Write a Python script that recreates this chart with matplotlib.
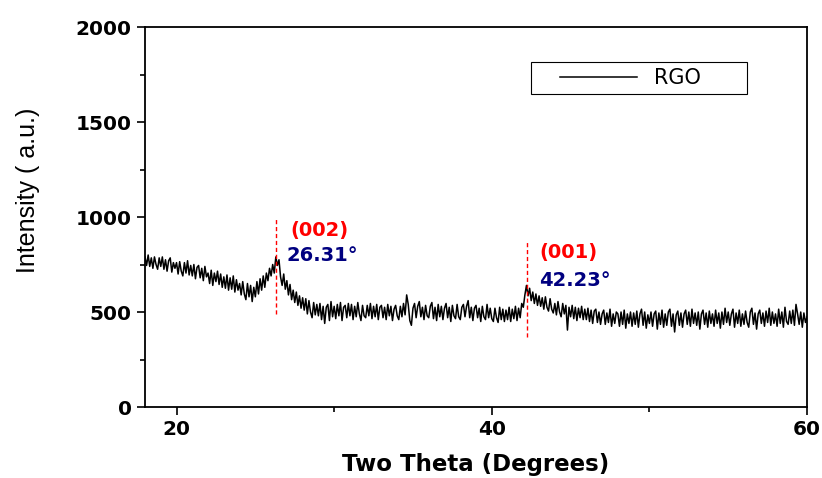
import numpy as np
import matplotlib.pyplot as plt
from matplotlib.patches import Rectangle
from matplotlib.ticker import MultipleLocator

# two theta grid, 0.1 deg steps from 18 to 60
two_theta = np.round(np.arange(18.0, 60.05, 0.1), 1)

# intensity, one row per degree
intensity = [
    790, 745, 800, 740, 785, 730, 790, 750, 725, 785,   # 18
    740, 790, 725, 775, 715, 770, 785, 710, 760, 730,   # 19
    760, 700, 765, 715, 690, 760, 705, 770, 695, 745,   # 20
    690, 750, 675, 735, 745, 680, 730, 665, 740, 685,   # 21
    705, 650, 720, 640, 705, 660, 715, 645, 700, 630,   # 22
    685, 625, 695, 615, 680, 620, 690, 605, 670, 615,   # 23
    650, 590, 660, 595, 565, 650, 580, 640, 555, 630,   # 24
    580, 660, 595, 675, 615, 690, 630, 705, 665, 730,   # 25
    690, 750, 705, 790, 745, 775, 685, 640, 700, 620,   # 26
    665, 590, 645, 565, 615, 550, 605, 535, 585, 520,   # 27
    575, 510, 570, 490, 560, 500, 470, 550, 485, 540,   # 28
    480, 545, 460, 530, 440, 525, 540, 455, 555, 475,   # 29
    530, 465, 540, 480, 550, 455, 525, 535, 470, 545,   # 30
    480, 540, 460, 530, 475, 550, 490, 455, 535, 480,   # 31
    470, 535, 480, 545, 465, 530, 475, 540, 460, 525,   # 32
    535, 470, 525, 460, 540, 480, 530, 455, 515, 535,   # 33
    480, 460, 530, 475, 545, 485, 590, 540, 455, 430,   # 34
    520, 545, 470, 530, 555, 475, 525, 460, 535, 480,   # 35
    470, 530, 550, 465, 525, 455, 540, 475, 530, 460,   # 36
    520, 545, 470, 525, 450, 535, 480, 465, 540, 475,   # 37
    460, 525, 540, 475, 530, 560, 470, 525, 455, 520,   # 38
    535, 470, 520, 450, 530, 475, 460, 540, 470, 520,   # 39
    465, 450, 520, 470, 445, 525, 460, 515, 450, 510,   # 40
    460, 525, 450, 515, 465, 530, 455, 520, 470, 545,   # 41
    525, 590, 640, 585, 625, 560, 605, 545, 595, 535,   # 42
    585, 530, 575, 515, 580, 525, 505, 570, 515, 495,   # 43
    545, 485, 555, 500, 475, 545, 490, 535, 405, 525,   # 44
    475, 535, 465, 525, 455, 520, 470, 530, 460, 515,   # 45
    460, 520, 450, 510, 440, 505, 515, 445, 500, 435,   # 46
    490, 510, 435, 495, 445, 515, 425, 490, 440, 500,   # 47
    490, 425, 500, 435, 510, 415, 490, 440, 500, 425,   # 48
    495, 435, 505, 420, 490, 515, 430, 500, 415, 485,   # 49
    440, 500, 425, 490, 505, 410, 495, 435, 510, 420,   # 50
    490, 430, 500, 515, 425, 490, 395, 485, 505, 430,   # 51
    495, 420, 490, 510, 435, 500, 425, 515, 440, 495,   # 52
    430, 500, 410, 490, 510, 435, 495, 420, 505, 440,   # 53
    490, 425, 510, 440, 495, 415, 500, 435, 520, 445,   # 54
    500, 430, 490, 515, 420, 495, 440, 510, 425, 490,   # 55
    435, 505, 445, 420, 500, 520, 435, 495, 410, 490,   # 56
    510, 440, 495, 425, 505, 445, 520, 430, 500, 440,   # 57
    490, 425, 515, 440, 500, 420, 525, 450, 435, 505,   # 58
    440, 510, 430, 540, 490, 435, 500, 420, 495, 445,   # 59
    475,                                                # 60
]

peak_pos = [26.31, 42.23]
peak_hkl = ["(002)", "(001)"]
peak_line_span = [(490, 1000), (370, 880)]
hkl_xy = [(27.2, 930), (43.0, 815)]
angle_xy = [(27.0, 800), (43.0, 668)]

fig = plt.figure(figsize=(8.22, 4.78), dpi=100)
ax = fig.add_axes([0.1764, 0.1485, 0.8054, 0.795])

ax.plot(two_theta, intensity, color='black', linewidth=1.1, label='RGO')

# peak markers and labels
for pos, hkl, (y0, y1), (hx, hy), (px, py) in zip(peak_pos, peak_hkl, peak_line_span, hkl_xy, angle_xy):
    ax.plot([pos, pos], [y0, y1], color='red', linestyle=(0, (3, 2)), linewidth=1.0)
    ax.text(hx, hy, hkl, color='red', fontsize=14, fontweight='bold',
            family='DejaVu Sans', va='center', ha='left')
    ax.text(px, py, f"{pos:.2f}°", color='#000080', fontsize=14, fontweight='bold',
            family='DejaVu Sans', va='center', ha='left')

ax.set_xlim(18, 60)
ax.set_ylim(0, 2000)
ax.xaxis.set_major_locator(MultipleLocator(20))
ax.xaxis.set_minor_locator(MultipleLocator(10))
ax.yaxis.set_major_locator(MultipleLocator(500))
ax.yaxis.set_minor_locator(MultipleLocator(250))
ax.tick_params(which='both', direction='out', top=False, right=False, width=1.2)
ax.tick_params(which='major', length=6, labelsize=14.5)
ax.tick_params(which='minor', length=3.5)
for lab in ax.get_xticklabels() + ax.get_yticklabels():
    lab.set_fontweight('bold')
    lab.set_family('DejaVu Sans')
for sp in ax.spines.values():
    sp.set_linewidth(1.3)

ax.set_xlabel("Two Theta (Degrees)", fontsize=16.5, fontweight='bold', family='DejaVu Sans')
ax.xaxis.set_label_coords(0.5, -0.12)
ax.set_ylabel("Intensity ( a.u.)", fontsize=18, family='Liberation Sans')
ax.yaxis.set_label_coords(-0.158, 0.57)

# legend: frame drawn by hand so it matches the wide box
ax.add_patch(Rectangle((0.583, 0.824), 0.326, 0.084, transform=ax.transAxes,
                       fill=False, edgecolor='black', linewidth=0.8))
ax.legend(loc='center left', bbox_to_anchor=(0.627, 0.866), frameon=False,
          borderpad=0, borderaxespad=0, handlelength=3.7, handletextpad=0.8,
          prop={'family': 'DejaVu Sans', 'size': 15})

fig.savefig('out.png', dpi=100)
